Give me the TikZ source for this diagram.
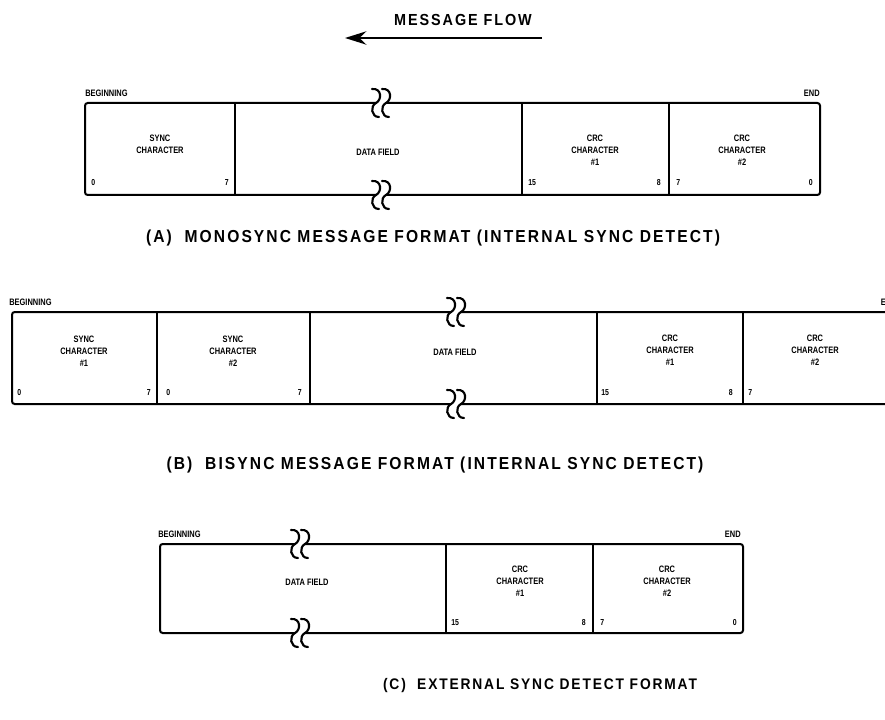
\documentclass[tikz,border=0pt]{standalone}
\usepackage{fontspec}
\setmainfont{Liberation Sans}
\newfontfamily\fldf[FakeStretch=0.8]{Liberation Sans}
\newfontfamily\capf[FakeStretch=0.9,LetterSpace=12]{Liberation Sans}
\usetikzlibrary{arrows.meta}
\begin{document}
\begin{tikzpicture}[x=0.75pt,y=-0.75pt,
 fld/.style={font=\fldf\bfseries\fontsize{7}{9}\selectfont, align=center, inner sep=0pt},
 bit/.style={font=\fldf\bfseries\fontsize{6.5}{7}\selectfont, inner sep=0pt},
 endlab/.style={font=\fldf\bfseries\fontsize{7}{8}\selectfont, inner sep=0pt},
 caption/.style={font=\capf\bfseries\fontsize{13}{15}\selectfont, inner sep=0pt},
 frameline/.style={line width=1.5pt, rounded corners=2pt},
 divider/.style={line width=0.8pt},
 brkline/.style={line width=1.6pt, line cap=round},
 brk/.pic={\draw[brkline] (-9,-14) .. controls (1,-15) and (1,-3) .. (-5,0) .. controls (-11,3) and (-10,14) .. (-2,14);
           \draw[brkline] (1,-14) .. controls (11,-15) and (11,-3) .. (5,0) .. controls (-1,3) and (0,14) .. (8,14);}
]
\useasboundingbox (0,0) rectangle (885,720);
\clip (0,0) rectangle (885,720);

% header
\node[caption,font=\capf\bfseries\fontsize{12}{14}\selectfont] (hdr) at (463,20) {MESSAGE FLOW};
\coordinate (fs) at (542,38);
\coordinate (fe) at (345,38);
\draw[line width=1.8pt,-{Stealth[length=16pt,width=10pt]}] (fs) -- (fe);

% ---------------- Part A ----------------
\draw[frameline] (376,103) -- (85,103) -- (85,195) -- (376,195);
\draw[frameline] (386,103) -- (820,103) -- (820,195) -- (386,195);
\pic at (381,103) {brk};
\pic at (381,195) {brk};
\draw[divider] (235,103) -- (235,195);
\draw[divider] (522,103) -- (522,195);
\draw[divider] (669,103) -- (669,195);
\node[endlab,anchor=south west] (abeg) at (85,97) {BEGINNING};
\node[endlab,anchor=south east] (aend) at (820,97) {END};
\node[fld] (async) at (160,144) {SYNC\\CHARACTER};
\node[fld] (adata) at (378,152) {DATA FIELD};
\node[fld] (acrc1) at (595,150) {CRC\\CHARACTER\\\#1};
\node[fld] (acrc2) at (742,150) {CRC\\CHARACTER\\\#2};
\node[bit,anchor=west] (ab1) at (91,183) {0};
\node[bit,anchor=east] (ab2) at (229,183) {7};
\node[bit,anchor=west] (ab3) at (528,183) {15};
\node[bit,anchor=east] (ab4) at (661,183) {8};
\node[bit,anchor=west] (ab5) at (676,183) {7};
\node[bit,anchor=east] (ab6) at (813,183) {0};
\node[caption] (capa) at (433,238) {(A)\ \ MONOSYNC MESSAGE FORMAT (INTERNAL SYNC DETECT)};

% ---------------- Part B ----------------
\draw[frameline] (451,312) -- (12,312) -- (12,404) -- (451,404);
\draw[frameline] (461,312) -- (897,312) -- (897,404) -- (461,404);
\pic at (456,312) {brk};
\pic at (456,404) {brk};
\draw[divider] (157,312) -- (157,404);
\draw[divider] (310,312) -- (310,404);
\draw[divider] (597,312) -- (597,404);
\draw[divider] (743,312) -- (743,404);
\node[endlab,anchor=south west] (bbeg) at (9,306) {BEGINNING};
\node[endlab,anchor=south east] (bend) at (897,306) {END};
\node[fld] (bsync1) at (84,351) {SYNC\\CHARACTER\\\#1};
\node[fld] (bsync2) at (233,351) {SYNC\\CHARACTER\\\#2};
\node[fld] (bdata) at (455,352) {DATA FIELD};
\node[fld] (bcrc1) at (670,350) {CRC\\CHARACTER\\\#1};
\node[fld] (bcrc2) at (815,350) {CRC\\CHARACTER\\\#2};
\node[bit,anchor=west] (bb1) at (17,393) {0};
\node[bit,anchor=east] (bb2) at (151,393) {7};
\node[bit,anchor=west] (bb3) at (166,393) {0};
\node[bit,anchor=east] (bb4) at (302,393) {7};
\node[bit,anchor=west] (bb5) at (601,393) {15};
\node[bit,anchor=east] (bb6) at (733,393) {8};
\node[bit,anchor=west] (bb7) at (748,393) {7};
\node[bit,anchor=east] (bb8) at (889,393) {0};
\node[caption] (capb) at (435,465) {(B)\ \ BISYNC MESSAGE FORMAT (INTERNAL SYNC DETECT)};

% ---------------- Part C ----------------
\draw[frameline] (295,544) -- (160,544) -- (160,633) -- (295,633);
\draw[frameline] (305,544) -- (743,544) -- (743,633) -- (305,633);
\pic at (300,544) {brk};
\pic at (300,633) {brk};
\draw[divider] (446,544) -- (446,633);
\draw[divider] (593,544) -- (593,633);
\node[endlab,anchor=south west] (cbeg) at (158,538) {BEGINNING};
\node[endlab,anchor=south east] (cend) at (741,538) {END};
\node[fld] (cdata) at (307,582) {DATA FIELD};
\node[fld] (ccrc1) at (520,581) {CRC\\CHARACTER\\\#1};
\node[fld] (ccrc2) at (667,581) {CRC\\CHARACTER\\\#2};
\node[bit,anchor=west] (cb1) at (451,623) {15};
\node[bit,anchor=east] (cb2) at (586,623) {8};
\node[bit,anchor=west] (cb3) at (600,623) {7};
\node[bit,anchor=east] (cb4) at (737,623) {0};
\node[caption,font=\capf\bfseries\fontsize{11.5}{14}\selectfont] (capc) at (540,686) {(C)\ \ EXTERNAL SYNC DETECT FORMAT};
\end{tikzpicture}
\end{document}
